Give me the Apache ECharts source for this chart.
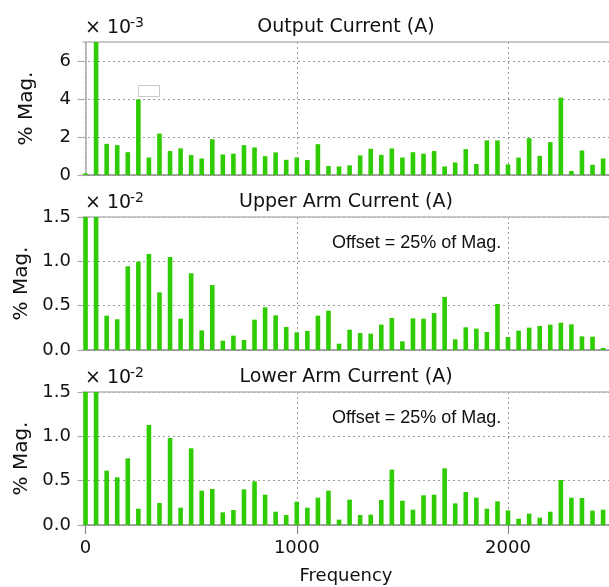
<!DOCTYPE html>
<html><head><meta charset="utf-8">
<script src="https://cdn.jsdelivr.net/npm/echarts@6/dist/echarts.min.js"></script>
<style>html,body{margin:0;padding:0;background:#fff}#c{width:609px;height:587px}</style>
</head><body><div id="c"></div>
<script>
// Harmonic frequencies (Hz)
const freqs = [0,50,100,150,200,250,300,350,400,450,500,550,600,650,700,750,800,850,900,950,
  1000,1050,1100,1150,1200,1250,1300,1350,1400,1450,1500,1550,1600,1650,1700,1750,1800,1850,1900,1950,
  2000,2050,2100,2150,2200,2250,2300,2350,2400,2450];
// Output current, % Mag. (x 10^-3)
const outputCurrent = [0.08,7.4,1.64,1.57,1.20,3.98,0.92,2.18,1.26,1.40,1.05,0.87,1.88,1.08,1.12,1.57,1.45,0.99,1.19,0.80,
  0.92,0.79,1.62,0.47,0.45,0.51,1.03,1.38,1.06,1.40,0.92,1.20,1.12,1.26,0.45,0.66,1.36,0.58,1.82,1.82,
  0.56,0.92,1.94,1.01,1.73,4.07,0.21,1.29,0.54,0.87];
// Upper arm current, % Mag. (x 10^-2)
const upperArm = [1.6,1.6,0.387,0.346,0.944,0.996,1.083,0.650,1.049,0.353,0.865,0.222,0.733,0.105,0.162,0.113,0.342,0.481,0.391,0.259,
  0.199,0.214,0.387,0.444,0.071,0.229,0.192,0.184,0.286,0.361,0.098,0.357,0.353,0.417,0.598,0.120,0.256,0.241,0.203,0.519,
  0.147,0.218,0.252,0.271,0.286,0.308,0.289,0.154,0.150,0.023];
// Lower arm current, % Mag. (x 10^-2)
const lowerArm = [1.6,1.6,0.613,0.538,0.752,0.184,1.128,0.248,0.981,0.195,0.865,0.387,0.406,0.143,0.169,0.402,0.492,0.342,0.150,0.113,
  0.263,0.195,0.308,0.387,0.060,0.286,0.113,0.117,0.282,0.624,0.274,0.173,0.335,0.342,0.639,0.244,0.372,0.308,0.184,0.267,
  0.165,0.071,0.128,0.083,0.150,0.508,0.308,0.304,0.162,0.173];

const panelTitles = ['Output Current (A)','Upper Arm Current (A)','Lower Arm Current (A)'];
const panelExponents = ['-3','-2','-2'];
const xTicks = [0,1000,2000];
const yTicksOutput = [0,2,4,6];
const yTicksArm = [0,0.5,1.0,1.5];
const offsetNote = 'Offset = 25% of Mag.';

const FONT = 'DejaVu Sans';
const tops = [42,217,392];
const H = 133;
const panelValues = [outputCurrent, upperArm, lowerArm];

const grids = [], xAxes = [], yAxes = [], seriesList = [], graphics = [];
for (let i = 0; i < 3; i++) {
  grids.push({left: 83, right: 0, top: tops[i], height: H});
  const isBottom = i === 2;
  xAxes.push({
    gridIndex: i, type: 'value', min: -12, max: 2478,
    axisLine: {show: true, onZero: false, lineStyle: {color: '#8a8a8a', width: 1.5}},
    axisTick: {show: isBottom, customValues: xTicks, length: 9, lineStyle: {color: '#8a8a8a', width: 1.2}},
    axisLabel: {show: isBottom, customValues: xTicks, margin: 14, color: '#111', fontFamily: FONT, fontSize: 18,
      formatter: v => String(Math.round(v))},
    splitLine: {show: true, lineStyle: {color: '#9a9a9a', type: [2, 3], width: 1}},
    name: isBottom ? 'Frequency' : '', nameLocation: 'middle', nameGap: 42,
    nameTextStyle: {color: '#111', fontFamily: FONT, fontSize: 18}
  });
  xAxes.push({
    gridIndex: i, type: 'value', min: -12, max: 2478, position: 'top',
    axisLine: {show: true, onZero: false, lineStyle: {color: '#b8b8b8', width: 1.5}},
    axisTick: {show: false}, axisLabel: {show: false}, splitLine: {show: false}
  });
  const yt = i === 0 ? yTicksOutput : yTicksArm;
  yAxes.push({
    gridIndex: i, type: 'value', min: 0, max: i === 0 ? 7 : 1.5,
    axisLine: {show: true, lineStyle: {color: '#a8a8a8', width: 1.5}},
    axisTick: {show: true, customValues: yt, length: 8, lineStyle: {color: '#a8a8a8', width: 1.2}},
    axisLabel: {customValues: yt, margin: 12, color: '#111', fontFamily: FONT, fontSize: 18,
      formatter: v => i === 0 ? String(Math.round(v)) : Number(v).toFixed(1)},
    splitLine: {show: true, lineStyle: {color: '#9a9a9a', type: [2, 3], width: 1}},
    name: '% Mag.', nameLocation: 'middle', nameGap: 46,
    nameTextStyle: {color: '#111', fontFamily: FONT, fontSize: 20}
  });
  const vals = panelValues[i];
  seriesList.push({
    type: 'bar', xAxisIndex: i * 2, yAxisIndex: i, barWidth: 4.6,
    itemStyle: {color: '#2ecc00'}, clip: true, silent: true,
    data: freqs.map((f, k) => [f, vals[k]])
  });
  graphics.push({type: 'text', x: 346, y: tops[i] - 15,
    style: {text: panelTitles[i], fill: '#111', font: '19px "DejaVu Sans"', textAlign: 'center', textVerticalAlign: 'middle'}});
  graphics.push({type: 'text', x: 85, y: tops[i] - 14,
    style: {text: '× 10', fill: '#111', font: '19px "DejaVu Sans"', textAlign: 'left', textVerticalAlign: 'middle'}});
  graphics.push({type: 'text', x: 130, y: tops[i] - 19,
    style: {text: panelExponents[i], fill: '#111', font: '14px "DejaVu Sans"', textAlign: 'left', textVerticalAlign: 'middle'}});
  if (i > 0) {
    graphics.push({type: 'text', x: 332, y: tops[i] + 26,
      style: {text: offsetNote, fill: '#111', font: '18px "Liberation Sans"', textAlign: 'left', textVerticalAlign: 'middle'}});
  }
}
graphics.push({type: 'rect', shape: {x: 138.5, y: 85.5, width: 21, height: 11},
  style: {fill: '#fff', stroke: '#c8c8c8', lineWidth: 1}});

const chart = echarts.init(document.getElementById('c'), null, {renderer: 'canvas'});
chart.setOption({
  animation: false,
  backgroundColor: '#fff',
  grid: grids, xAxis: xAxes, yAxis: yAxes, series: seriesList,
  graphic: graphics
});
</script></body></html>
